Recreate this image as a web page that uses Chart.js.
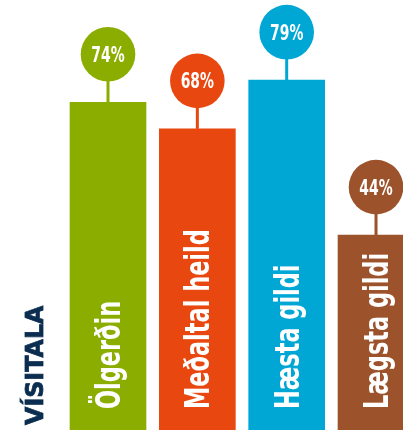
<!DOCTYPE html>
<html>
<head>
<meta charset="utf-8">
<script src="https://cdn.jsdelivr.net/npm/chart.js@4.4.1/dist/chart.umd.min.js"></script>
<style>
  html, body { margin: 0; padding: 0; background: #fff; }
  #wrap { width: 403px; height: 431px; position: relative; }
</style>
</head>
<body>
<div id="wrap"><canvas id="visitala"></canvas></div>
<script>
const categories = ['Ölgerðin', 'Meðaltal heild', 'Hæsta gildi', 'Lægsta gildi'];
const positions = [1, 2, 3, 4];
const values = [74, 68, 79, 44];
const barColors = ['#8aad00', '#e84710', '#00a7d5', '#9c522a'];
const axisTitle = 'VÍSITALA';

// no condensed face installed, so squeeze DejaVu Sans Bold horizontally
const face = '"DejaVu Sans", sans-serif';
const squeeze = 0.68;

const decor = {
    id: 'decor',
    afterDatasetsDraw(chart) {
        const ctx = chart.ctx;
        const meta = chart.getDatasetMeta(0);
        const area = chart.chartArea;
        meta.data.forEach((bar, i) => {
            const col = barColors[i];
            const cy = bar.y - 48;
            // stem
            ctx.save();
            ctx.strokeStyle = col;
            ctx.lineWidth = 3;
            ctx.beginPath();
            ctx.moveTo(bar.x, bar.y);
            ctx.lineTo(bar.x, cy);
            ctx.stroke();
            // circle
            ctx.fillStyle = col;
            ctx.beginPath();
            ctx.arc(bar.x, cy, 27.3, 0, Math.PI * 2);
            ctx.fill();
            ctx.restore();

            // percent
            ctx.save();
            ctx.translate(bar.x, cy + 7.5);
            ctx.scale(squeeze, 1);
            ctx.fillStyle = '#fff';
            ctx.font = 'bold 20.5px ' + face;
            ctx.textAlign = 'center';
            ctx.textBaseline = 'alphabetic';
            ctx.fillText(values[i] + '%', 0, 0);
            ctx.restore();

            // category label inside bar, reading upward
            ctx.save();
            ctx.translate(bar.x + 12, area.bottom - 21);
            ctx.rotate(-Math.PI / 2);
            ctx.scale(squeeze, 1);
            ctx.fillStyle = '#fff';
            ctx.font = 'bold 33px ' + face;
            ctx.textAlign = 'left';
            ctx.textBaseline = 'alphabetic';
            ctx.fillText(categories[i], 0, 0);
            ctx.restore();
        });

        // vertical title, a bit heavier than the bar labels
        ctx.save();
        ctx.translate(43, 425);
        ctx.rotate(-Math.PI / 2);
        ctx.scale(0.95, 1);
        ctx.fillStyle = '#0b2d4f';
        ctx.strokeStyle = '#0b2d4f';
        ctx.lineWidth = 0.8;
        ctx.font = 'bold 25px ' + face;
        ctx.textAlign = 'left';
        ctx.textBaseline = 'alphabetic';
        ctx.fillText(axisTitle, 0, 0);
        ctx.strokeText(axisTitle, 0, 0);
        ctx.restore();
    }
};

new Chart(document.getElementById('visitala').getContext('2d'), {
    type: 'bar',
    data: {
        datasets: [{
            data: values.map((v, i) => ({ x: positions[i], y: v })),
            backgroundColor: barColors,
            borderWidth: 0,
            barThickness: 76
        }]
    },
    options: {
        responsive: true,
        maintainAspectRatio: false,
        animation: false,
        layout: { padding: { left: 0, right: 0, top: 0, bottom: 1 } },
        plugins: {
            legend: { display: false },
            tooltip: { enabled: false }
        },
        scales: {
            x: {
                type: 'linear',
                offset: false,
                min: -0.209,
                max: 4.302,
                display: false
            },
            y: {
                min: 0,
                max: 97.1,
                display: false
            }
        }
    },
    plugins: [decor]
});
</script>
</body>
</html>
